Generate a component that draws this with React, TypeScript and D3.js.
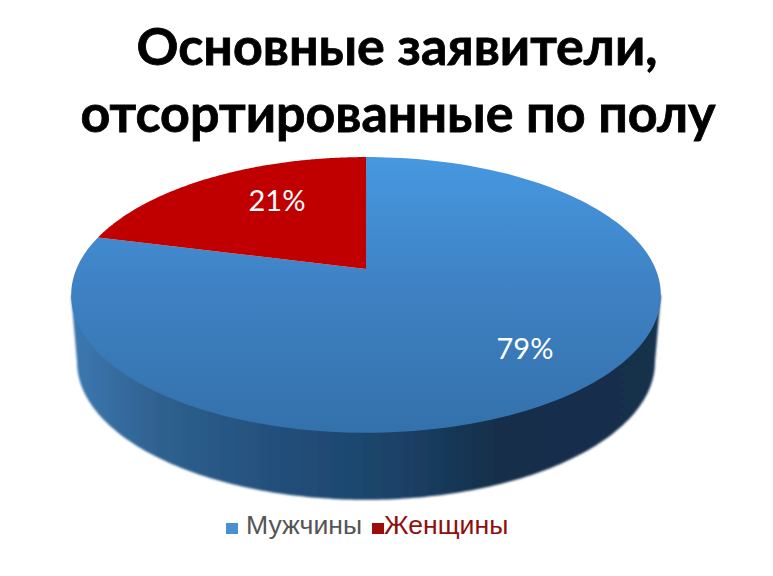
import React from "react";
import * as d3 from "d3";

const categories = ["Мужчины", "Женщины"];
const values = [79, 21];
const labels = ["79%", "21%"];
const titleLines = ["Основные заявители,", "отсортированные по полу"];
const colors = ["#4a90d0", "#c00000"];

const W = 773, H = 576;
const cx = 366;
const depth = 67;

// perspective disc: unit circle -> picture
const a = 289.6, b = -82.4, c = 269, k = 0.188;
const project = (theta: number, r = 1): [number, number] => {
  const u = r * Math.sin(theta), v = r * Math.cos(theta);
  const d = 1 + k * v;
  return [cx + (a * u) / d, (b * v + c) / d];
};

const pie = d3.pie<number>().sort(null).startAngle(0).endAngle(2 * Math.PI);
const arcs = pie(values);
const line = d3.line();

const slicePath = (s: number, e: number) => {
  const n = 180;
  const pts = d3.range(n + 1).map((i) => project(s + ((e - s) * i) / n));
  return line([project(0, 0), ...pts]) + "Z";
};

// wall: from the widest points of the rim down to the rim moved down, a little narrower
const wallPath = () => {
  const n = 180;
  const t0 = Math.acos(-k);
  const rim = d3.range(n + 1).map((i) => project(t0 + ((2 * Math.PI - 2 * t0) * i) / n));
  const low = rim
    .slice()
    .reverse()
    .map(([x, y]): [number, number] => [cx + (x - cx) * 0.98, y + depth]);
  return line([rim[n], ...low, rim[0]]) + "Z";
};

const labelPos = [
  [525, 352],
  [277, 204],
];

export default function App() {
  return (
    <svg
      width={W}
      height={H}
      viewBox={`0 0 ${W} ${H}`}
      style={{ position: "absolute", left: 0, top: 0, background: "#fff" }}
    >
      <defs>
        <linearGradient id="top" gradientUnits="userSpaceOnUse" x1="0" y1="157" x2="0" y2="433">
          <stop offset="0" stopColor="#4698e0" />
          <stop offset="0.5" stopColor="#3e80c2" />
          <stop offset="1" stopColor="#3371ab" />
        </linearGradient>
        <linearGradient id="wall" gradientUnits="userSpaceOnUse" x1="70" y1="0" x2="662" y2="0">
          <stop offset="0" stopColor="#3d78b2" />
          <stop offset="0.15" stopColor="#2f618f" />
          <stop offset="0.35" stopColor="#234f7b" />
          <stop offset="0.55" stopColor="#1c4268" />
          <stop offset="0.72" stopColor="#152f4a" />
          <stop offset="1" stopColor="#17304d" />
        </linearGradient>
        <filter id="soft" x="-5%" y="-5%" width="110%" height="110%">
          <feGaussianBlur stdDeviation="0.9" />
        </filter>
      </defs>

      {titleLines.map((t, i) => (
        <text
          key={t}
          x={i === 0 ? 397 : 398}
          y={i === 0 ? 65 : 132}
          textAnchor="middle"
          fontFamily="Lato, 'Open Sans', 'Noto Sans', sans-serif"
          fontWeight="700"
          fontSize={52}
          fill="#000"
          stroke="#000"
          strokeWidth={0.8}
        >
          {t}
        </text>
      ))}

      <path d={wallPath()} fill="url(#wall)" filter="url(#soft)" />
      {arcs.map((d, i) => (
        <path
          key={categories[i]}
          d={slicePath(d.startAngle, d.endAngle)}
          fill={i === 0 ? "url(#top)" : colors[1]}
        />
      ))}

      {labels.map((l, i) => (
        <text
          key={l}
          x={labelPos[i][0]}
          y={labelPos[i][1]}
          textAnchor="middle"
          dominantBaseline="middle"
          fontFamily="Lato, 'Open Sans', sans-serif"
          fontSize={29}
          fill="#fff"
        >
          {l}
        </text>
      ))}

      <rect x={226} y={523} width={12} height={11} fill={colors[0]} />
      <text x={246} y={534} fontFamily="'Liberation Sans', sans-serif" fontSize={26.6} fill="#555">
        {categories[0]}
      </text>
      <rect x={372} y={523} width={12} height={11} fill="#9c0b0b" />
      <text x={384} y={534} fontFamily="'Liberation Sans', sans-serif" fontSize={26.6} fill="#8f0f0f">
        {categories[1]}
      </text>
    </svg>
  );
}
